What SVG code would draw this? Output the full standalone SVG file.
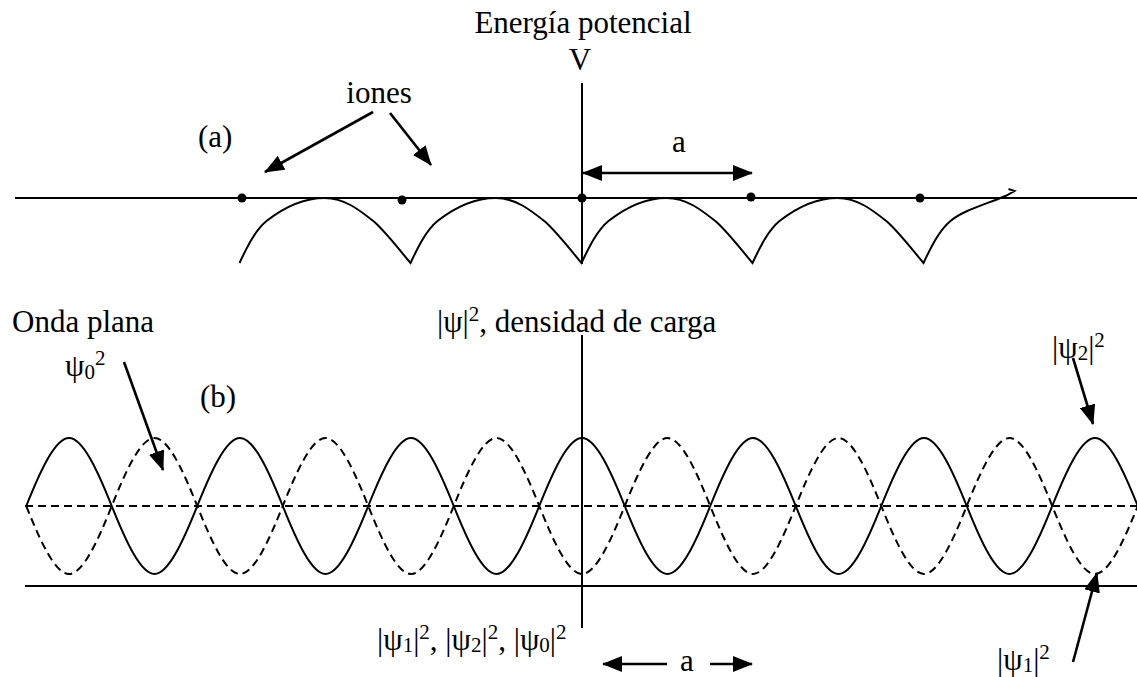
<svg xmlns="http://www.w3.org/2000/svg" width="1137" height="677" viewBox="0 0 1137 677">
<style>
text{font-family:"Liberation Serif","Times New Roman","DejaVu Serif",serif;font-size:31px;fill:#000}
.ln{stroke:#000;stroke-width:2;fill:none}
.ar{stroke:#000;stroke-width:2.6;fill:none}
.da{stroke:#000;stroke-width:2;fill:none;stroke-dasharray:8,5}
.sub{font-size:21px}
.sup{font-size:21px}
</style>
<defs>
<marker id="ah" markerUnits="userSpaceOnUse" markerWidth="20" markerHeight="16" refX="19" refY="8" orient="auto-start-reverse">
<path d="M0,0 L20,8 L0,16 z" fill="#000"/>
</marker>
</defs>
<rect width="1137" height="677" fill="#fff"/>

<g id="panel-a" font-family="Liberation Serif, serif">
<line class="ln" x1="15" y1="198" x2="1137" y2="198"/>
<line class="ln" x1="582" y1="83" x2="582" y2="264"/>
<path class="ln" d="M239.5,263 c8,-17 16,-33 27,-42 c18,-14 38,-23 58,-23 c20,0 35,12 50,24 c13,12 25,28 36,41 c8,-17 16,-33 27,-42 c18,-14 38,-23 58,-23 c20,0 35,12 50,24 c13,12 25,28 36,41 c8,-17 16,-33 27,-42 c18,-14 38,-23 58,-23 c20,0 35,12 50,24 c13,12 25,28 36,41 c8,-17 16,-33 27,-42 c18,-14 38,-23 58,-23 c20,0 35,12 50,24 c13,12 25,28 36,41 c8,-17 16,-33 27,-42 c12,-10 30,-15 55,-25 l9,-5 l-6,-2"/>
<g id="ions" fill="#000">
<circle cx="242" cy="198" r="4.5"/>
<circle cx="402" cy="200" r="4.5"/>
<circle cx="582" cy="198" r="4.5"/>
<circle cx="751" cy="197" r="4.5"/>
<circle cx="920" cy="198" r="4.5"/>
</g>
<text x="583" y="33" text-anchor="middle">Energía potencial</text>
<text x="580" y="70" text-anchor="middle">V</text>
<text x="379" y="103" text-anchor="middle">iones</text>
<text x="198" y="147">(a)</text>
<text x="679" y="152" text-anchor="middle">a</text>
</g>

<g id="panel-b" font-family="Liberation Serif, serif">
<line class="ln" x1="25" y1="586" x2="1137" y2="586"/>
<line class="ln" x1="582" y1="335" x2="582" y2="628"/>
<line class="da" x1="25" y1="506" x2="1137" y2="506"/>
<path id="psi2" class="ln" d="M26.25,506 c13.9,-34.8 28.85,-68 42.75,-68 c13.9,0 28.85,33.2 42.75,68 c13.9,34.8 28.85,68 42.75,68 c13.9,0 28.85,-33.2 42.75,-68 c13.9,-34.8 28.85,-68 42.75,-68 c13.9,0 28.85,33.2 42.75,68 c13.9,34.8 28.85,68 42.75,68 c13.9,0 28.85,-33.2 42.75,-68 c13.9,-34.8 28.85,-68 42.75,-68 c13.9,0 28.85,33.2 42.75,68 c13.9,34.8 28.85,68 42.75,68 c13.9,0 28.85,-33.2 42.75,-68 c13.9,-34.8 28.85,-68 42.75,-68 c13.9,0 28.85,33.2 42.75,68 c13.9,34.8 28.85,68 42.75,68 c13.9,0 28.85,-33.2 42.75,-68 c13.9,-34.8 28.85,-68 42.75,-68 c13.9,0 28.85,33.2 42.75,68 c13.9,34.8 28.85,68 42.75,68 c13.9,0 28.85,-33.2 42.75,-68 c13.9,-34.8 28.85,-68 42.75,-68 c13.9,0 28.85,33.2 42.75,68 c13.9,34.8 28.85,68 42.75,68 c13.9,0 28.85,-33.2 42.75,-68 c13.9,-34.8 28.85,-68 42.75,-68 c13.9,0 28.85,33.2 42.75,68"/>
<path id="psi1" class="da" d="M26.25,506 c13.9,34.8 28.85,68 42.75,68 c13.9,0 28.85,-33.2 42.75,-68 c13.9,-34.8 28.85,-68 42.75,-68 c13.9,0 28.85,33.2 42.75,68 c13.9,34.8 28.85,68 42.75,68 c13.9,0 28.85,-33.2 42.75,-68 c13.9,-34.8 28.85,-68 42.75,-68 c13.9,0 28.85,33.2 42.75,68 c13.9,34.8 28.85,68 42.75,68 c13.9,0 28.85,-33.2 42.75,-68 c13.9,-34.8 28.85,-68 42.75,-68 c13.9,0 28.85,33.2 42.75,68 c13.9,34.8 28.85,68 42.75,68 c13.9,0 28.85,-33.2 42.75,-68 c13.9,-34.8 28.85,-68 42.75,-68 c13.9,0 28.85,33.2 42.75,68 c13.9,34.8 28.85,68 42.75,68 c13.9,0 28.85,-33.2 42.75,-68 c13.9,-34.8 28.85,-68 42.75,-68 c13.9,0 28.85,33.2 42.75,68 c13.9,34.8 28.85,68 42.75,68 c13.9,0 28.85,-33.2 42.75,-68 c13.9,-34.8 28.85,-68 42.75,-68 c13.9,0 28.85,33.2 42.75,68 c13.9,34.8 28.85,68 42.75,68 c13.9,0 28.85,-33.2 42.75,-68"/>
<text x="12" y="332">Onda plana</text>
<text x="65" y="376">ψ<tspan class="sub" dy="3">0</tspan><tspan class="sup" dy="-14">2</tspan></text>
<text x="200" y="407">(b)</text>
<text x="437" y="332">|ψ|<tspan class="sup" dy="-11">2</tspan><tspan dy="11">, densidad de carga</tspan></text>
<text x="377" y="650">|ψ<tspan class="sub" dy="2">1</tspan><tspan dy="-2">|</tspan><tspan class="sup" dy="-11">2</tspan><tspan dy="11">, |ψ</tspan><tspan class="sub" dy="2">2</tspan><tspan dy="-2">|</tspan><tspan class="sup" dy="-11">2</tspan><tspan dy="11">, |ψ</tspan><tspan class="sub" dy="2">0</tspan><tspan dy="-2">|</tspan><tspan class="sup" dy="-11">2</tspan></text>
<text x="687" y="671" text-anchor="middle">a</text>
<text x="1052" y="358">|ψ<tspan class="sub" dy="2">2</tspan><tspan dy="-2">|</tspan><tspan class="sup" dy="-11">2</tspan></text>
<text x="997" y="670">|ψ<tspan class="sub" dy="2">1</tspan><tspan dy="-2">|</tspan><tspan class="sup" dy="-11">2</tspan></text>
</g>

<g id="connectors">
<line class="ar" x1="373" y1="112" x2="265" y2="172" marker-end="url(#ah)"/>
<line class="ar" x1="390" y1="113" x2="431" y2="165" marker-end="url(#ah)"/>
<line class="ar" x1="583" y1="173" x2="752" y2="173" marker-start="url(#ah)" marker-end="url(#ah)"/>
<line class="ar" x1="124" y1="362" x2="163" y2="470" marker-end="url(#ah)"/>
<line class="ar" x1="1073" y1="358" x2="1093" y2="424" marker-end="url(#ah)"/>
<line class="ar" x1="1073" y1="662" x2="1097" y2="573" marker-end="url(#ah)"/>
<line class="ar" x1="667" y1="664" x2="603" y2="664" marker-end="url(#ah)"/>
<line class="ar" x1="710" y1="664" x2="752" y2="664" marker-end="url(#ah)"/>
</g>
</svg>
